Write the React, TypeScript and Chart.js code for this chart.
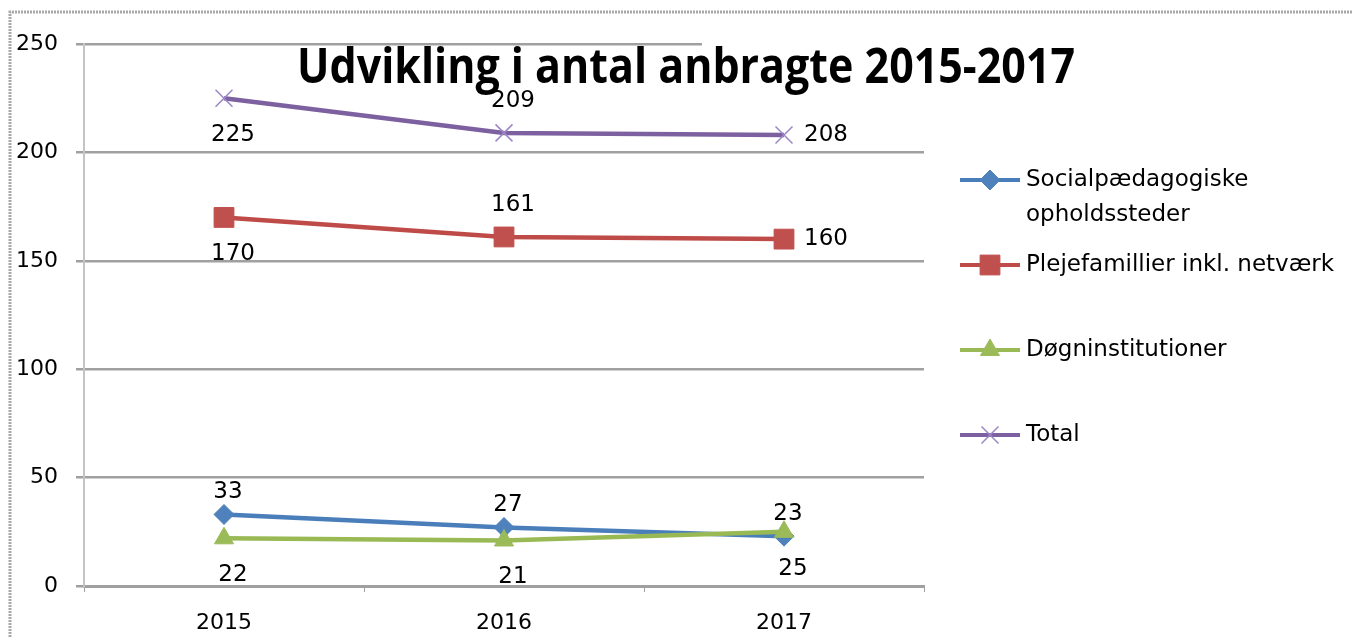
import React, { useEffect, useRef } from 'react';
import { Chart, registerables } from 'chart.js';
import { drawPoint } from 'chart.js/helpers';

Chart.register(...registerables);

const categories = ['2015', '2016', '2017'];
const seriesNames = ['Socialpædagogiske opholdssteder', 'Plejefamillier inkl. netværk', 'Døgninstitutioner', 'Total'];
const socialValues = [33, 27, 23];
const plejeValues = [170, 161, 160];
const doegnValues = [22, 21, 25];
const totalValues = [225, 209, 208];
const yTicks = [0, 50, 100, 150, 200, 250];
const titleText = 'Udvikling i antal anbragte 2015-2017';

// label placement per series/point
const labelPlacement: string[][] = [
  ['above', 'above', 'above'],
  ['below', 'above', 'right'],
  ['below', 'below', 'below'],
  ['below', 'above', 'right'],
];

const COLORS = ['#4a7ebb', '#be4b48', '#98b954', '#7d60a0'];
const MARKER_COLORS = ['#4f81bd', '#c0504d', '#9bbb59', '#9b86c6'];
const STYLES = ['rectRot', 'rect', 'triangle', 'crossRot'];
const RADII = [10, 14, 11, 12];
const FONT = '"DejaVu Sans", sans-serif';

const framePlugin = {
  id: 'frame',
  beforeDraw(chart: any) {
    const ctx = chart.ctx;
    ctx.save();
    ctx.strokeStyle = '#a8a8a8';
    ctx.lineWidth = 3;
    ctx.setLineDash([2, 1]);
    ctx.beginPath();
    ctx.moveTo(10, chart.height);
    ctx.lineTo(10, 12);
    ctx.lineTo(chart.width, 12);
    ctx.stroke();
    ctx.restore();
  },
  beforeDatasetsDraw(chart: any) {
    const ctx = chart.ctx;
    const y = chart.scales.y.getPixelForValue(250);
    ctx.save();
    ctx.fillStyle = '#ffffff';
    ctx.fillRect(702, y - 3, chart.chartArea.right - 702 + 2, 6);
    ctx.restore();
  },
  afterDraw(chart: any) {
    const ctx = chart.ctx;
    ctx.save();
    // title (horizontally condensed)
    ctx.fillStyle = '#000';
    ctx.font = 'bold 48px "Open Sans", sans-serif';
    ctx.textAlign = 'center';
    ctx.textBaseline = 'alphabetic';
    const w = ctx.measureText(titleText).width;
    const sx = 778 / w;
    ctx.save();
    ctx.translate(686, 83);
    ctx.scale(sx, 1);
    ctx.fillText(titleText, 0, 0);
    ctx.restore();

    // data labels
    ctx.font = '23px ' + FONT;
    ctx.textBaseline = 'middle';
    chart.data.datasets.forEach((ds: any, i: number) => {
      const meta = chart.getDatasetMeta(i);
      meta.data.forEach((pt: any, j: number) => {
        const place = labelPlacement[i][j];
        let x = pt.x;
        let y = pt.y;
        if (place === 'above') {
          x += i === 0 ? 4 : 9;
          y -= i === 0 ? 22 : 32;
        } else if (place === 'below') {
          x += 9;
          y += 37;
        } else {
          x += 42;
        }
        ctx.textAlign = 'center';
        ctx.fillText(String(ds.data[j]), x, y);
      });
    });

    // legend
    const legendY = [[180, 215], [265], [350], [435]];
    seriesNames.forEach((name, i) => {
      const ly = legendY[i][0];
      ctx.strokeStyle = COLORS[i];
      ctx.lineWidth = 4;
      ctx.setLineDash([]);
      ctx.beginPath();
      ctx.moveTo(960, ly);
      ctx.lineTo(1020, ly);
      ctx.stroke();
      ctx.fillStyle = MARKER_COLORS[i];
      ctx.strokeStyle = MARKER_COLORS[i];
      ctx.lineWidth = STYLES[i] === 'crossRot' ? 1.5 : 1;
      drawPoint(ctx, { pointStyle: STYLES[i], radius: RADII[i], rotation: 0, borderWidth: ctx.lineWidth }, 990, ly);
      ctx.fillStyle = '#000';
      ctx.font = '23px ' + FONT;
      ctx.textAlign = 'left';
      ctx.textBaseline = 'middle';
      const lines = i === 0 ? ['Socialpædagogiske', 'opholdssteder'] : [name];
      lines.forEach((t, k) => ctx.fillText(t, 1026, legendY[i][k] ?? ly));
    });
    ctx.restore();
  },
};

export default function App() {
  const ref = useRef<HTMLCanvasElement>(null);
  useEffect(() => {
    if (!ref.current) return;
    const allValues = [socialValues, plejeValues, doegnValues, totalValues];
    const chart = new Chart(ref.current, {
      type: 'line',
      data: {
        labels: categories,
        datasets: allValues.map((vals, i) => ({
          label: seriesNames[i],
          data: vals,
          order: allValues.length - i,
          borderColor: COLORS[i],
          backgroundColor: MARKER_COLORS[i],
          pointBackgroundColor: MARKER_COLORS[i],
          pointBorderColor: MARKER_COLORS[i],
          pointBorderWidth: STYLES[i] === 'crossRot' ? 1.5 : 1,
          pointStyle: STYLES[i] as any,
          pointRadius: RADII[i],
          borderWidth: 4.5,
          tension: 0,
          fill: false,
        })),
      },
      plugins: [framePlugin],
      options: {
        responsive: false,
        animation: false,
        devicePixelRatio: 1,
        layout: { padding: { left: 0, top: 44, right: 428, bottom: 0 } },
        plugins: {
          legend: { display: false },
          title: { display: false },
          tooltip: { enabled: false },
        },
        scales: {
          x: {
            type: 'category',
            offset: true,
            grid: {
              offset: true,
              drawOnChartArea: false,
              drawTicks: true,
              tickLength: 6,
              color: '#a0a0a0',
              lineWidth: 1,
            },
            border: { display: true, color: '#a0a0a0', width: 3 },
            ticks: {
              color: '#000',
              font: { family: 'DejaVu Sans', size: 22 },
              padding: 18,
              maxRotation: 0,
            },
            afterFit: (s: any) => {
              s.height = 51;
            },
          },
          y: {
            min: 0,
            max: 250,
            afterBuildTicks: (s: any) => {
              s.ticks = yTicks.map((v) => ({ value: v }));
            },
            grid: {
              color: '#a0a0a0',
              lineWidth: 2.5,
              tickLength: 8,
            },
            border: { display: true, color: '#c4c4c4', width: 2 },
            ticks: {
              color: '#000',
              font: { family: 'DejaVu Sans', size: 22 },
              padding: 18,
            },
            afterFit: (s: any) => {
              s.width = 84;
            },
          },
        },
      },
    });
    return () => chart.destroy();
  }, []);
  return (
    <div style={{ position: 'fixed', left: 0, top: 0, width: 1352, height: 637, background: '#fff' }}>
      <canvas ref={ref} width={1352} height={637} style={{ display: 'block' }} />
    </div>
  );
}
